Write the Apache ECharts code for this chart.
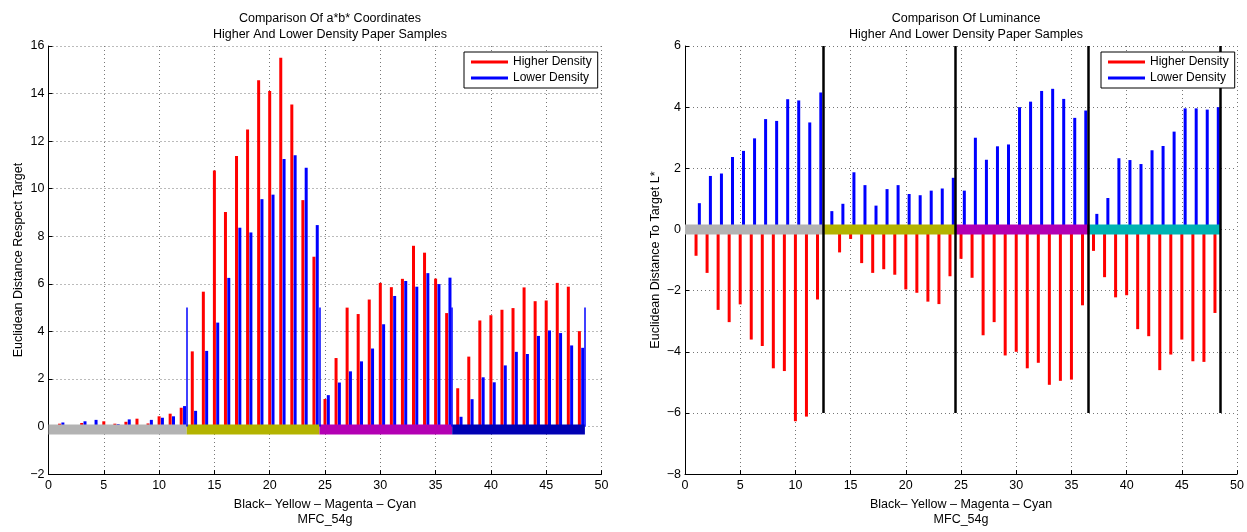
<!DOCTYPE html>
<html>
<head>
<meta charset="utf-8">
<script src="https://cdn.jsdelivr.net/npm/echarts@6/dist/echarts.min.js"></script>
<style>
  html, body { margin: 0; padding: 0; background: #fff; }
  #main { width: 1247px; height: 532px; }
</style>
</head>
<body>
<div id="main"></div>
<script>
// sample index 1..48 (Black, Yellow, Magenta, Cyan, 12 each)
var samples = [];
for (var i = 1; i <= 48; i++) samples.push(i);

// a*b* distance
var higherAB = [0.12, 0.03, 0.15, 0.03, 0.22, 0.12, 0.2, 0.33, 0.13, 0.43, 0.54, 0.79,
  3.16, 5.67, 10.77, 9.02, 11.38, 12.49, 14.56, 14.11, 15.51, 13.54, 9.52, 7.14,
  1.16, 2.88, 5.0, 4.73, 5.34, 6.04, 5.86, 6.21, 7.6, 7.31, 6.22, 4.77,
  1.61, 2.94, 4.46, 4.68, 4.91, 4.98, 5.85, 5.27, 5.3, 6.04, 5.88, 4.01];
var lowerAB = [0.17, 0, 0.22, 0.28, 0, 0.1, 0.3, 0, 0.28, 0.37, 0.43, 0.86,
  0.66, 3.18, 4.37, 6.25, 8.36, 8.16, 9.56, 9.75, 11.25, 11.41, 10.88, 8.47,
  1.32, 1.85, 2.32, 2.74, 3.28, 4.3, 5.49, 6.12, 5.88, 6.45, 5.99, 6.26,
  0.41, 1.15, 2.07, 1.86, 2.57, 3.14, 3.05, 3.81, 4.04, 3.93, 3.41, 3.31];

// luminance distance
var higherL = [-0.86, -1.42, -2.63, -3.03, -2.45, -3.6, -3.81, -4.54, -4.63, -6.27, -6.12, -2.29,
  -0.05, -0.75, -0.31, -1.1, -1.42, -1.3, -1.48, -1.96, -2.07, -2.36, -2.44, -1.53,
  -0.96, -1.58, -3.46, -3.03, -4.12, -4.0, -4.54, -4.36, -5.08, -4.95, -4.91, -2.48,
  -0.7, -1.56, -2.22, -2.15, -3.26, -3.49, -4.6, -4.09, -3.6, -4.31, -4.33, -2.73];
var lowerL = [0.86, 1.75, 1.83, 2.37, 2.57, 2.98, 3.61, 3.55, 4.26, 4.22, 3.5, 4.48,
  0.6, 0.84, 1.87, 1.45, 0.78, 1.32, 1.45, 1.16, 1.12, 1.27, 1.34, 1.69,
  1.27, 3.0, 2.28, 2.72, 2.78, 4.0, 4.18, 4.53, 4.6, 4.27, 3.65, 3.89,
  0.51, 1.03, 2.33, 2.27, 2.14, 2.59, 2.73, 3.2, 3.96, 3.96, 3.92, 4.0];

// group boundaries and colour bands
var bounds = [0, 12.5, 24.5, 36.5, 48.5];
var dividers = [12.5, 24.5, 36.5, 48.5];
var bandColorsAB = ['#b3b3b3', '#b3b300', '#b300b3', '#0000b3'];
var bandColorsL = ['#b3b3b3', '#b3b300', '#b300b3', '#00b3b3'];

var xTitle = 'Black\u2013 Yellow \u2013 Magenta \u2013 Cyan\nMFC_54g';
var font = 'Liberation Sans';
var fs = 12.5;

function minus(v) {
  return String(v).replace('-', '\u2212');
}

function pairs(xs, ys, shift) {
  var out = [];
  for (var i = 0; i < xs.length; i++) out.push([xs[i] + shift, ys[i]]);
  return out;
}

function xAxisOf(idx) {
  return {
    type: 'value', gridIndex: idx, min: 0, max: 50, interval: 5,
    axisLine: { onZero: false, lineStyle: { color: '#000', width: 1 } },
    axisTick: { inside: true, length: 4, lineStyle: { color: '#000' } },
    axisLabel: { color: '#000', fontSize: fs, margin: 5, fontFamily: font },
    splitLine: { show: true, lineStyle: { color: '#777', type: [1, 3], width: 1 } },
    name: xTitle, nameLocation: 'middle', nameGap: 17,
    nameTextStyle: { color: '#000', fontSize: fs, lineHeight: 15, fontFamily: font }
  };
}

function yAxisOf(idx, min, max, name) {
  return {
    type: 'value', gridIndex: idx, min: min, max: max, interval: 2,
    axisLine: { show: true, onZero: false, lineStyle: { color: '#000', width: 1 } },
    axisTick: { show: true, inside: true, length: 4, lineStyle: { color: '#000' } },
    axisLabel: { color: '#000', fontSize: fs, margin: 4, fontFamily: font, formatter: minus },
    splitLine: { show: true, lineStyle: { color: '#777', type: [1, 3], width: 1 } },
    name: name, nameLocation: 'middle', nameGap: 23, nameRotate: 90,
    nameTextStyle: { color: '#000', fontSize: fs, fontFamily: font }
  };
}

function legendOf(left) {
  return {
    data: ['Higher Density', 'Lower Density'],
    orient: 'vertical', left: left, top: 52, z: 20,
    icon: 'rect', itemWidth: 37, itemHeight: 3, itemGap: 2,
    padding: [3, 6, 3, 7],
    borderColor: '#000', borderWidth: 1, backgroundColor: '#fff',
    textStyle: { color: '#000', fontSize: 12, lineHeight: 14, fontFamily: font },
    selectedMode: false
  };
}

function barSeries(name, idx, data, color, lines, lineColor, lineWidth) {
  var s = {
    name: name, type: 'bar', xAxisIndex: idx, yAxisIndex: idx,
    data: data, barWidth: 3, barGap: '-100%',
    itemStyle: { color: color }, silent: true
  };
  if (lines) {
    s.markLine = {
      silent: true, symbol: 'none', label: { show: false }, z: 6,
      lineStyle: { color: lineColor, width: lineWidth, type: 'solid' },
      emphasis: { disabled: true },
      data: lines
    };
  }
  return s;
}

function bandSeries(idx, colors, y) {
  var out = [];
  for (var i = 0; i < colors.length; i++) {
    out.push({
      type: 'line', xAxisIndex: idx, yAxisIndex: idx, silent: true,
      symbol: 'none', z: 4,
      lineStyle: { color: colors[i], width: 10, cap: 'butt' },
      data: [[bounds[i], y], [bounds[i + 1], y]]
    });
  }
  return out;
}

function dividerLines(y0, y1) {
  return dividers.map(function (x) {
    return [{ coord: [x, y0] }, { coord: [x, y1] }];
  });
}

var chart = echarts.init(document.getElementById('main'));

var series = [
  barSeries('Higher Density', 0, pairs(samples, higherAB, 0), '#ff0000'),
  barSeries('Lower Density', 0, pairs(samples, lowerAB, 0.3), '#0000ff', dividerLines(0, 5), '#0000ff', 1.5),
  barSeries('Higher Density', 1, pairs(samples, higherL, 0), '#ff0000'),
  barSeries('Lower Density', 1, pairs(samples, lowerL, 0.3), '#0000ff', dividerLines(-6, 6), '#000000', 2.5)
].concat(bandSeries(0, bandColorsAB, -0.12), bandSeries(1, bandColorsL, 0));

var option = {
  animation: false,
  backgroundColor: '#fff',
  textStyle: { fontFamily: font },
  title: [{
    text: 'Comparison Of a*b* Coordinates\nHigher And Lower Density Paper Samples',
    left: 325, top: 6, textAlign: 'center',
    textStyle: { fontSize: fs, fontWeight: 'normal', color: '#000', lineHeight: 15.5, fontFamily: font }
  }, {
    text: 'Comparison Of Luminance\nHigher And Lower Density Paper Samples',
    left: 961, top: 6, textAlign: 'center',
    textStyle: { fontSize: fs, fontWeight: 'normal', color: '#000', lineHeight: 15.5, fontFamily: font }
  }],
  legend: [legendOf(464), legendOf(1101)],
  grid: [
    { left: 48.5, top: 46, width: 553, height: 435.5 },
    { left: 685, top: 46, width: 552.5, height: 436 }
  ],
  xAxis: [xAxisOf(0), xAxisOf(1)],
  yAxis: [
    yAxisOf(0, -2, 16, 'Euclidean Distance Respect Target'),
    yAxisOf(1, -8, 6, 'Euclidean Distance To Target L*')
  ],
  series: series
};

chart.setOption(option);
</script>
</body>
</html>
